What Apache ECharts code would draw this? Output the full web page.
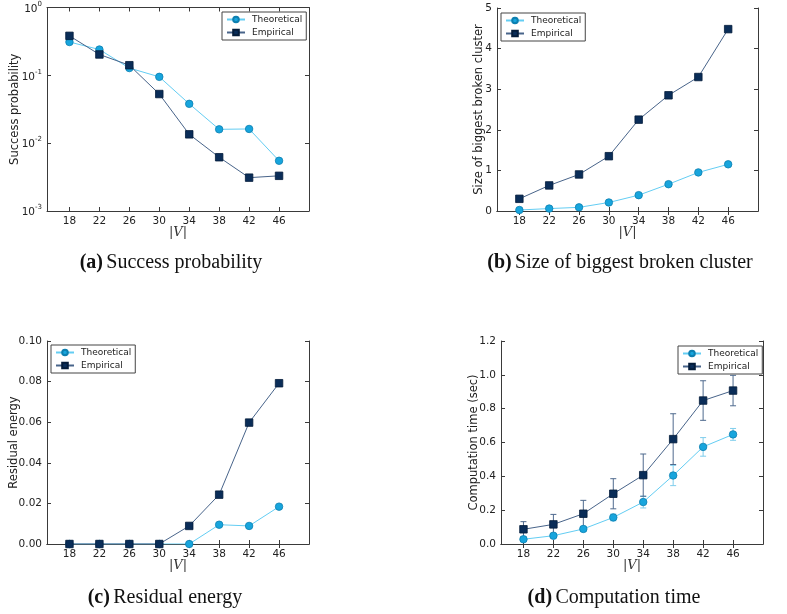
<!DOCTYPE html>
<html>
<head>
<meta charset="utf-8">
<script src="https://cdn.jsdelivr.net/npm/echarts@6/dist/echarts.min.js"></script>
<style>html,body{margin:0;padding:0;background:#fff;}#c{width:787px;height:614px;}</style>
</head>
<body>
<div id="c"></div>
<script>
const xTicks = [18, 22, 26, 30, 34, 38, 42, 46];
const successTheo = [0.31, 0.24, 0.128, 0.095, 0.038, 0.016, 0.0162, 0.0055];
const successEmp = [0.382, 0.203, 0.141, 0.053, 0.0135, 0.0062, 0.0031, 0.0033];
const clusterTheo = [0.025, 0.06, 0.09, 0.21, 0.39, 0.66, 0.95, 1.15];
const clusterEmp = [0.30, 0.63, 0.90, 1.35, 2.25, 2.85, 3.30, 4.48];
const residualTheo = [0, 0, 0, 0, 0, 0.0095, 0.0089, 0.0184];
const residualEmp = [0, 0, 0, 0, 0.0089, 0.0243, 0.0598, 0.0792];
const timeTheo = [0.028, 0.049, 0.089, 0.157, 0.248, 0.405, 0.574, 0.648];
const timeTheoErr = [0.01, 0.01, 0.015, 0.02, 0.035, 0.06, 0.055, 0.035];
const timeEmp = [0.087, 0.116, 0.179, 0.297, 0.407, 0.620, 0.848, 0.907];
const timeEmpErr = [0.045, 0.059, 0.079, 0.089, 0.125, 0.15, 0.117, 0.09];
const seriesNames = ['Theoretical', 'Empirical'];
const yLabels = ['Success probability', 'Size of biggest broken cluster', 'Residual energy', 'Computation time (sec)'];
const captions = [['(a)', 'Success probability'], ['(b)', 'Size of biggest broken cluster'], ['(c)', 'Residual energy'], ['(d)', 'Computation time']];

const chart = echarts.init(document.getElementById('c'), null, {renderer: 'canvas'});

const FRAME = '#3a3a3a';
const TXT = '#222';
const theoFill = '#17a5dd', theoBorder = '#0d7fb0', theoLine = '#63cdf3';
const empFill = '#0a2d58', empBorder = '#041c3a', empLine = '#48648a';

const grids = [
  {left: 47, top: 7.5, width: 262, height: 203.5},
  {left: 497, top: 8, width: 261, height: 203},
  {left: 47, top: 341, width: 262, height: 203},
  {left: 501, top: 341, width: 262, height: 203}
];
const yCfg = [
  {type: 'log', min: 0.001, max: 1, nameGap: 26},
  {type: 'value', min: 0, max: 5, interval: 1, nameGap: 12},
  {type: 'value', min: 0, max: 0.1, interval: 0.02, nameGap: 27, dec: 2},
  {type: 'value', min: 0, max: 1.2, interval: 0.2, nameGap: 21, dec: 1}
];
const legendPos = [
  {left: 222, top: 12},
  {left: 501, top: 13},
  {left: 51, top: 345},
  {left: 678, top: 346}
];
const capPos = [[171, 263], [620, 263], [165, 598], [614, 598]];

const xAxes = [], yAxes = [], series = [], legends = [], graphics = [];

grids.forEach((g, i) => {
  xAxes.push({
    gridIndex: i, type: 'value', min: 15, max: 50, position: 'bottom',
    name: '{b||}{i|V}{b||}', nameLocation: 'middle', nameGap: 15, nameMoveOverlap: false,
    nameTextStyle: {rich: {b: {fontFamily: 'DejaVu Serif', fontSize: 13, color: '#333'}, i: {fontFamily: 'DejaVu Serif', fontStyle: 'italic', fontSize: 13, color: '#333'}}},
    axisLine: {show: true, lineStyle: {color: FRAME, width: 1}},
    axisTick: {show: true, inside: true, length: 4, customValues: xTicks, lineStyle: {color: FRAME}},
    axisLabel: {show: true, customValues: xTicks, color: TXT, fontFamily: 'DejaVu Sans', fontSize: 10.5, margin: 5},
    splitLine: {show: false}
  });
  xAxes.push({
    gridIndex: i, type: 'value', min: 15, max: 50, position: 'top',
    axisLine: {show: true, lineStyle: {color: FRAME, width: 1}},
    axisTick: {show: true, inside: true, length: 4, customValues: xTicks, lineStyle: {color: FRAME}},
    axisLabel: {show: false},
    splitLine: {show: false}
  });
  const yc = yCfg[i];
  const base = {gridIndex: i, type: yc.type, min: yc.min, max: yc.max};
  if (yc.type === 'log') base.logBase = 10; else base.interval = yc.interval;
  const fmt = yc.type === 'log'
    ? function (v) { const e = Math.round(Math.log10(v)); return '{b|10}{s|' + e + '}'; }
    : function (v) { return yc.dec ? v.toFixed(yc.dec) : String(Math.round(v)); };
  yAxes.push(Object.assign({}, base, {
    position: 'left',
    name: yLabels[i], nameLocation: 'middle', nameRotate: 90, nameGap: yc.nameGap, nameMoveOverlap: false,
    nameTextStyle: {color: TXT, fontFamily: 'DejaVu Sans', fontSize: 11.5},
    axisLine: {show: true, lineStyle: {color: FRAME, width: 1}},
    axisTick: {show: true, inside: true, length: 4, lineStyle: {color: FRAME}},
    axisLabel: {show: true, color: TXT, fontFamily: 'DejaVu Sans', fontSize: 10.5, margin: 5, formatter: fmt,
      rich: {b: {fontSize: 10.5, fontFamily: 'DejaVu Sans', color: TXT, lineHeight: 14, verticalAlign: 'bottom'},
             s: {fontSize: 7, fontFamily: 'DejaVu Sans', color: TXT, lineHeight: 14, verticalAlign: 'top'}}},
    splitLine: {show: false}
  }));
  yAxes.push(Object.assign({}, base, {
    position: 'right',
    axisLine: {show: true, lineStyle: {color: FRAME, width: 1}},
    axisTick: {show: true, inside: true, length: 4, lineStyle: {color: FRAME}},
    axisLabel: {show: false},
    splitLine: {show: false}
  }));
  legends.push({
    left: legendPos[i].left, top: legendPos[i].top, orient: 'vertical',
    data: seriesNames, itemWidth: 18, itemHeight: 7, itemGap: 4,
    padding: [3, 4, 3, 4], borderColor: '#444', borderWidth: 1, borderRadius: 0,
    backgroundColor: '#fff',
    textStyle: {fontFamily: 'DejaVu Sans', fontSize: 9, color: TXT, padding: [0, 0, 0, 2]}
  });
  const c = capPos[i];
  graphics.push({
    type: 'text', x: c[0], y: c[1],
    style: {
      text: '{b|' + captions[i][0] + '} {n|' + captions[i][1] + '}',
      align: 'center', verticalAlign: 'middle',
      rich: {b: {fontFamily: 'Liberation Serif', fontWeight: 'bold', fontSize: 20, fill: '#111'},
             n: {fontFamily: 'Liberation Serif', fontSize: 20, fill: '#111'}}
    }
  });
});

const dataSets = [
  [successTheo, successEmp],
  [clusterTheo, clusterEmp],
  [residualTheo, residualEmp],
  [timeTheo, timeEmp]
];

function pairs(arr) { return xTicks.map((x, k) => [x, arr[k]]); }

function errBar(color) {
  return function (params, api) {
    const x = api.value(0), y = api.value(1), e = api.value(2);
    const top = api.coord([x, y + e]);
    const bot = api.coord([x, y - e]);
    const w = 3;
    const st = {stroke: color, lineWidth: 1};
    return {type: 'group', children: [
      {type: 'line', shape: {x1: top[0], y1: top[1], x2: bot[0], y2: bot[1]}, style: st},
      {type: 'line', shape: {x1: top[0] - w, y1: top[1], x2: top[0] + w, y2: top[1]}, style: st},
      {type: 'line', shape: {x1: bot[0] - w, y1: bot[1], x2: bot[0] + w, y2: bot[1]}, style: st}
    ]};
  };
}

dataSets.forEach((ds, i) => {
  if (i === 3) {
    series.push({
      type: 'custom', xAxisIndex: i * 2, yAxisIndex: i * 2, z: 1, silent: true,
      renderItem: errBar('#7fcdec'),
      data: xTicks.map((x, k) => [x, timeTheo[k], timeTheoErr[k]]),
      encode: {x: 0, y: 1}
    });
    series.push({
      type: 'custom', xAxisIndex: i * 2, yAxisIndex: i * 2, z: 1, silent: true,
      renderItem: errBar('#4f6a8e'),
      data: xTicks.map((x, k) => [x, timeEmp[k], timeEmpErr[k]]),
      encode: {x: 0, y: 1}
    });
  }
  series.push({
    name: 'Theoretical', type: 'line', xAxisIndex: i * 2, yAxisIndex: i * 2,
    data: pairs(ds[0]), symbol: 'circle', symbolSize: 7.5, showSymbol: true, z: 3,
    lineStyle: {color: theoLine, width: 1},
    itemStyle: {color: theoFill, borderColor: theoBorder, borderWidth: 0.8},
    animation: false
  });
  series.push({
    name: 'Empirical', type: 'line', xAxisIndex: i * 2, yAxisIndex: i * 2,
    data: pairs(ds[1]), symbol: 'rect', symbolSize: 7.5, showSymbol: true, z: 4,
    lineStyle: {color: empLine, width: 1},
    itemStyle: {color: empFill, borderColor: empBorder, borderWidth: 0.8},
    animation: false
  });
});

chart.setOption({
  backgroundColor: '#fff',
  animation: false,
  grid: grids.map(g => Object.assign({show: false, containLabel: false}, g)),
  xAxis: xAxes,
  yAxis: yAxes,
  legend: legends,
  series: series,
  graphic: graphics
});
</script>
</body>
</html>
